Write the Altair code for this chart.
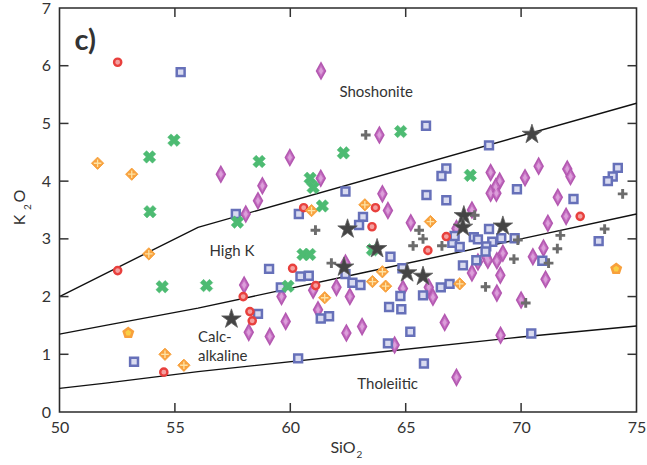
import altair as alt
import pandas as pd

# ---- sample compositions: SiO2 (wt%) and K2O (wt%) per suite ----
red_sio2 = [52.52, 52.52, 54.52, 60.58, 63.69, 63.54, 60.10, 61.10, 57.96, 58.25, 58.35, 72.56, 66.76, 65.96]
red_k2o = [6.06, 2.45, 0.69, 3.54, 3.54, 3.21, 2.49, 2.19, 2.00, 1.74, 1.58, 3.39, 3.04, 2.80]

blue_sio2 = [55.25, 65.88, 68.61, 66.76, 66.55, 62.39, 65.90, 66.76, 60.37, 63.15, 62.98, 57.64,
             69.82, 72.27, 74.19, 73.97, 73.76, 73.36, 70.92, 70.44, 68.61, 69.14, 69.72, 67.02,
             67.34, 67.95, 68.13, 68.75, 68.49, 68.46, 67.48, 68.06, 64.34, 62.39, 62.69, 63.04,
             64.86, 59.08, 60.44, 60.80, 59.59, 58.60, 61.32, 61.68, 64.28, 64.81, 64.77, 65.20,
             64.23, 66.52, 66.90, 65.75, 65.79, 60.34, 53.23, 67.12]
blue_k2o = [5.89, 4.96, 4.62, 4.22, 4.09, 3.82, 3.76, 3.67, 3.43, 3.38, 3.24, 3.43,
            3.86, 3.69, 4.23, 4.08, 4.00, 2.96, 2.62, 1.36, 3.17, 3.01, 3.01, 2.93,
            2.86, 3.03, 2.99, 2.95, 2.87, 2.78, 2.54, 2.63, 2.69, 2.39, 2.24, 2.20,
            2.49, 2.48, 2.35, 2.36, 2.16, 1.70, 1.62, 1.66, 1.82, 1.78, 2.01, 1.39,
            1.19, 2.16, 2.22, 2.02, 0.84, 0.93, 0.87, 3.05]

purple_sio2 = [61.33, 63.86, 56.99, 59.98, 58.79, 58.60, 61.32, 63.99, 64.23, 65.22, 58.07, 68.68,
               69.07, 68.90, 68.68, 68.93, 70.17, 70.76, 72.00, 72.14, 71.59, 67.87, 71.16, 71.95,
               67.20, 70.97, 70.51, 69.21, 68.50, 68.13, 68.56, 67.87, 69.10, 71.06, 70.00, 68.95,
               66.00, 66.18, 66.69, 69.11, 67.20, 62.39, 62.00, 62.58, 58.00, 59.62, 60.99, 61.20,
               59.80, 58.20, 59.11, 62.43, 63.11, 64.88, 64.52, 68.95]
purple_k2o = [5.91, 4.80, 4.12, 4.41, 3.92, 3.66, 4.05, 3.78, 3.49, 3.28, 3.43, 4.15,
              4.00, 3.90, 3.79, 3.79, 4.06, 4.26, 4.21, 4.08, 3.72, 3.50, 3.27, 3.39,
              3.18, 2.84, 2.69, 2.75, 2.68, 2.60, 2.63, 2.41, 2.37, 2.30, 1.94, 2.62,
              2.16, 1.99, 1.55, 1.33, 0.60, 2.58, 2.16, 2.00, 2.20, 2.00, 2.11, 1.77,
              1.57, 1.38, 1.31, 1.37, 1.48, 2.14, 1.16, 2.06]

orange_sio2 = [51.65, 53.13, 53.87, 60.92, 63.23, 66.07, 63.56, 63.99, 64.13, 61.49, 67.34, 54.57, 55.39]
orange_k2o = [4.31, 4.12, 2.74, 3.49, 3.59, 3.30, 2.26, 2.43, 2.18, 1.98, 2.22, 1.00, 0.81]

penta_sio2 = [52.98, 74.12]
penta_k2o = [1.37, 2.48]

green_sio2 = [53.90, 54.96, 58.65, 62.30, 64.78, 60.86, 60.99, 61.39, 67.80, 57.71, 53.92, 63.56,
              60.55, 60.84, 59.90, 56.37, 54.45]
green_k2o = [4.42, 4.71, 4.34, 4.49, 4.86, 4.05, 3.89, 3.57, 4.10, 3.29, 3.47, 2.81,
             2.73, 2.73, 2.18, 2.19, 2.17]

gray_sio2 = [63.27, 74.40, 67.99, 65.75, 66.57, 69.86, 73.62, 71.70, 71.57, 71.19, 69.69, 65.58,
             61.09, 65.32, 61.78, 68.46, 70.20]
gray_k2o = [4.80, 3.78, 3.41, 3.00, 2.88, 2.98, 3.17, 3.06, 2.83, 2.58, 2.65, 3.15,
            3.15, 2.88, 2.58, 2.17, 1.89]

star_sio2 = [70.47, 67.52, 67.48, 69.21, 62.48, 63.76, 62.33, 65.06, 65.75, 57.45]
star_k2o = [4.81, 3.40, 3.20, 3.22, 3.17, 2.83, 2.51, 2.41, 2.35, 1.61]

# ---- series boundaries ----
shos_x = [50, 56, 75]
shos_y = [2.0, 3.2, 5.35]
highk_x = [50, 52, 56, 63, 70, 75]
highk_y = [1.35, 1.5, 1.8, 2.4, 3.0, 3.43]
thol_x = [50, 52, 56, 63, 70, 75]
thol_y = [0.41, 0.5, 0.7, 1.0, 1.3, 1.49]

# ---- field labels ----
label_text = ["Shoshonite", "High K", "Tholeiitic"]
label_x = [63.72, 57.47, 64.22]
label_y = [5.55, 2.79, 0.485]
ca_text = ["Calc-", "alkaline"]
ca_x = [56.0, 56.0]
ca_y = [1.305, 0.97]

x_ticks = [55, 60, 65, 70]
y_ticks = [1, 2, 3, 4, 5, 6]
x_labels = [50, 55, 60, 65, 70, 75]
y_labels = [0, 1, 2, 3, 4, 5, 6, 7]

W, H = 577, 404
FONT = "Lato"
TXT = "#333333"

xscale = alt.Scale(domain=[50, 75], nice=False, zero=False)
yscale = alt.Scale(domain=[0, 7], nice=False, zero=False)
xaxis = alt.Axis(values=x_labels, ticks=False, domain=False, grid=False, title=None,
                 labelFont=FONT, labelFontSize=16, labelColor=TXT, labelPadding=7,
                 labelFlush=False, labelOverlap=False)
yaxis = alt.Axis(values=y_labels, ticks=False, domain=False, grid=False, title=None,
                 labelFont=FONT, labelFontSize=16, labelColor=TXT, labelPadding=9,
                 labelFlush=False, labelOverlap=False)


def X(field="x"):
    return alt.X(f"{field}:Q", scale=xscale, axis=xaxis)


def Y(field="y"):
    return alt.Y(f"{field}:Q", scale=yscale, axis=yaxis)


def pts(xs, ys):
    return pd.DataFrame({"x": xs, "y": ys})


TALL_DIAMOND = "M0,-1L0.56,0L0,1L-0.56,0Z"
PLUS = "M-1,-0.3H-0.3V-1H0.3V-0.3H1V0.3H0.3V1H-0.3V0.3H-1Z"
THICK_PLUS = "M-1,-0.36H-0.36V-1H0.36V-0.36H1V0.36H0.36V1H-0.36V0.36H-1Z"
THIN_CROSS = "M-0.62,0L0.62,0M0,-0.62L0,0.62"
PENTAGON = "M0,-1L0.951,-0.309L0.588,0.809L-0.588,0.809L-0.951,-0.309Z"
STAR = ("M0,-1L0.225,-0.31L0.951,-0.309L0.365,0.119L0.588,0.809L0,0.383L-0.588,0.809"
        "L-0.365,0.119L-0.951,-0.309L-0.225,-0.31Z")

layers = []

# boundary lines
bounds = pd.concat([
    pd.DataFrame({"x": shos_x, "y": shos_y, "b": "shoshonite"}),
    pd.DataFrame({"x": highk_x, "y": highk_y, "b": "highk"}),
    pd.DataFrame({"x": thol_x, "y": thol_y, "b": "tholeiitic"}),
])
layers.append(alt.Chart(bounds).mark_line(color="#111111", strokeWidth=1.4).encode(
    x=X(), y=Y(), detail="b:N"))

# sample symbols
layers.append(alt.Chart(pts(purple_sio2, purple_k2o)).mark_point(
    shape=TALL_DIAMOND, size=250, filled=True, fill="#c772c4", stroke="#b459b1",
    strokeWidth=1.6, opacity=1).encode(x=X(), y=Y()))
layers.append(alt.Chart(pts(purple_sio2, purple_k2o)).mark_point(
    shape=TALL_DIAMOND, size=60, filled=True, fill="#dc9fda", opacity=1).encode(x=X(), y=Y()))
layers.append(alt.Chart(pts(blue_sio2, blue_k2o)).mark_point(
    shape="square", size=62, filled=True, fill="#d9dbf0", stroke="#6670b9",
    strokeWidth=2.5, opacity=1).encode(x=X(), y=Y()))
layers.append(alt.Chart(pts(red_sio2, red_k2o)).mark_point(
    shape="circle", size=52, filled=True, fill="#f4a0a0", stroke="#e8403d",
    strokeWidth=2.4, opacity=1).encode(x=X(), y=Y()))
layers.append(alt.Chart(pts(orange_sio2, orange_k2o)).mark_point(
    shape="diamond", size=150, filled=True, fill="#f8a23e", stroke="#f8a23e",
    strokeWidth=1, opacity=1).encode(x=X(), y=Y()))
layers.append(alt.Chart(pts(orange_sio2, orange_k2o)).mark_point(
    shape=THIN_CROSS, size=150, filled=False, stroke="#fde3a6",
    strokeWidth=1.3, opacity=1).encode(x=X(), y=Y()))
layers.append(alt.Chart(pts(penta_sio2, penta_k2o)).mark_point(
    shape=PENTAGON, size=90, filled=True, fill="#f9cf45", stroke="#f8a03c",
    strokeWidth=2.6, opacity=1).encode(x=X(), y=Y()))
layers.append(alt.Chart(pts(green_sio2, green_k2o)).mark_point(
    shape=THICK_PLUS, size=170, angle=45, filled=True, fill="#4dbb72",
    stroke="#4dbb72", strokeWidth=0.5, opacity=1).encode(x=X(), y=Y()))
layers.append(alt.Chart(pts(gray_sio2, gray_k2o)).mark_point(
    shape=PLUS, size=95, filled=True, fill="#6c6c6c", opacity=1).encode(x=X(), y=Y()))
layers.append(alt.Chart(pts(star_sio2, star_k2o)).mark_point(
    shape=STAR, size=420, filled=True, fill="#444444", stroke="#5e5e5e",
    strokeWidth=0.8, opacity=1).encode(x=X(), y=Y()))

# field names
layers.append(alt.Chart(pd.DataFrame({"x": label_x, "y": label_y, "t": label_text})).mark_text(
    font=FONT, fontSize=15, color=TXT, align="center", baseline="middle").encode(
    x=X(), y=Y(), text="t:N"))
layers.append(alt.Chart(pd.DataFrame({"x": ca_x, "y": ca_y, "t": ca_text})).mark_text(
    font=FONT, fontSize=15, color=TXT, align="left", baseline="middle").encode(
    x=X(), y=Y(), text="t:N"))

# inward tick marks on all four sides
xt = pd.DataFrame({"x": x_ticks})
yt = pd.DataFrame({"y": y_ticks})
tick_style = dict(color="#333333", strokeWidth=1.5)
layers.append(alt.Chart(xt).mark_rule(**tick_style).encode(
    x=X(), y=alt.value(H), y2=alt.value(H - 9)))
layers.append(alt.Chart(xt).mark_rule(**tick_style).encode(
    x=X(), y=alt.value(0), y2=alt.value(9)))
layers.append(alt.Chart(yt).mark_rule(**tick_style).encode(
    y=Y(), x=alt.value(0), x2=alt.value(9)))
layers.append(alt.Chart(yt).mark_rule(**tick_style).encode(
    y=Y(), x=alt.value(W), x2=alt.value(W - 9)))


# panel letter and axis titles with subscripts
def txt(s, x, y, size, angle=0, align="center", weight="normal"):
    kw = dict(text=s, font=FONT, fontSize=size, color=TXT, align=align,
              baseline="middle", fontWeight=weight)
    if angle:
        kw["angle"] = angle
    return alt.Chart(pd.DataFrame({"a": [0]})).mark_text(**kw).encode(
        x=alt.value(x), y=alt.value(y))


layers.append(txt("c)", 15, 33, 29, align="left", weight="bold"))
layers.append(txt("SiO", 296, 440, 16, align="right"))
layers.append(txt("2", 297, 447, 10, align="left"))
layers.append(txt("K", -39.5, 212, 16, angle=270))
layers.append(txt("2", -31.5, 199, 10, angle=270))
layers.append(txt("O", -39.5, 188, 16, angle=270))

chart = alt.layer(*layers).properties(
    width=W, height=H,
    autosize=alt.AutoSizeParams(type="none"),
    padding={"left": 59.5, "top": 8, "right": 10.5, "bottom": 53},
    background="white",
).configure_view(stroke="#2b2b2b", strokeWidth=1.6)

chart.save("out.html", embed_options={"renderer": "svg", "actions": False})
